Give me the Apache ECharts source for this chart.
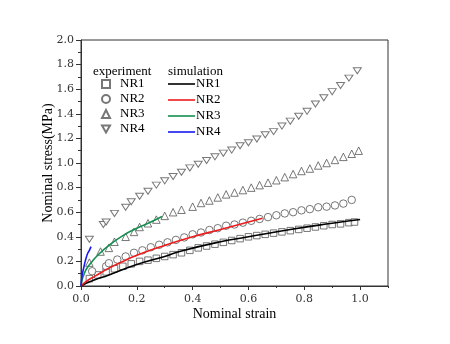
<!DOCTYPE html>
<html><head><meta charset="utf-8">
<script src="https://cdn.jsdelivr.net/npm/echarts@6/dist/echarts.min.js"></script>
<style>html,body{margin:0;padding:0;background:#fff}#c{width:450px;height:344px}</style>
</head><body><div id="c"></div>
<script>
// ---- data ----
const xTicks = [0, 0.2, 0.4, 0.6, 0.8, 1.0];
const yTicks = [0, 0.2, 0.4, 0.6, 0.8, 1.0, 1.2, 1.4, 1.6, 1.8, 2.0];
const names = ['NR1', 'NR2', 'NR3', 'NR4'];

const expNR1x = [0.03,0.06,0.09,0.12,0.15,0.18,0.21,0.24,0.27,0.30,0.33,0.36,0.39,0.42,0.45,0.48,0.51,0.54,0.57,0.60,0.63,0.66,0.69,0.72,0.75,0.78,0.81,0.84,0.87,0.90,0.93,0.96,0.98];
const expNR1y = [0.06,0.09,0.115,0.14,0.16,0.18,0.20,0.21,0.225,0.24,0.255,0.27,0.29,0.31,0.325,0.34,0.355,0.37,0.385,0.40,0.41,0.42,0.43,0.44,0.45,0.46,0.47,0.48,0.49,0.50,0.505,0.515,0.52];

const expNR2x = [0.04,0.09,0.10,0.13,0.16,0.19,0.22,0.25,0.28,0.31,0.34,0.37,0.40,0.43,0.46,0.49,0.52,0.55,0.58,0.61,0.64,0.67,0.70,0.73,0.76,0.79,0.82,0.85,0.88,0.91,0.94,0.97];
const expNR2y = [0.12,0.16,0.185,0.215,0.24,0.27,0.29,0.315,0.335,0.355,0.375,0.395,0.42,0.435,0.455,0.47,0.49,0.50,0.515,0.53,0.545,0.56,0.575,0.59,0.60,0.615,0.625,0.64,0.645,0.655,0.67,0.70];

const expNR3x = [0.03,0.07,0.10,0.12,0.16,0.19,0.21,0.24,0.27,0.30,0.33,0.36,0.40,0.43,0.46,0.49,0.52,0.55,0.58,0.61,0.64,0.67,0.70,0.73,0.76,0.79,0.82,0.85,0.88,0.91,0.94,0.97,0.995];
const expNR3y = [0.19,0.28,0.31,0.36,0.40,0.44,0.48,0.51,0.54,0.57,0.60,0.62,0.645,0.675,0.695,0.72,0.745,0.76,0.78,0.80,0.82,0.84,0.86,0.885,0.91,0.935,0.955,0.98,1.0,1.025,1.05,1.075,1.10];

const expNR4x = [0.03,0.08,0.09,0.12,0.16,0.18,0.21,0.24,0.27,0.30,0.33,0.36,0.39,0.42,0.45,0.48,0.51,0.54,0.57,0.60,0.63,0.66,0.69,0.72,0.75,0.78,0.81,0.84,0.87,0.90,0.93,0.96,0.99];
const expNR4y = [0.38,0.50,0.52,0.59,0.64,0.685,0.73,0.77,0.82,0.855,0.89,0.925,0.96,0.99,1.02,1.05,1.08,1.105,1.14,1.165,1.195,1.23,1.255,1.30,1.34,1.38,1.42,1.48,1.53,1.58,1.63,1.69,1.75];

const simNR1x = [0,0.02,0.05,0.1,0.2,0.3,0.36,0.5,0.6,0.75,0.9,1.0];
const simNR1y = [0,0.025,0.05,0.09,0.175,0.24,0.285,0.36,0.40,0.46,0.51,0.54];
const simNR2x = [0,0.02,0.05,0.1,0.15,0.2,0.3,0.4,0.5,0.6,0.65];
const simNR2y = [0,0.04,0.08,0.145,0.2,0.25,0.33,0.40,0.46,0.52,0.55];
const simNR3x = [0,0.005,0.01,0.02,0.04,0.06,0.1,0.15,0.2,0.25,0.29];
const simNR3y = [0,0.06,0.09,0.14,0.2,0.25,0.33,0.41,0.47,0.52,0.565];
const simNR4x = [0,0.003,0.006,0.01,0.015,0.02,0.025,0.03,0.036];
const simNR4y = [0,0.07,0.11,0.15,0.2,0.24,0.27,0.29,0.32];

// ---- build ----
const zip = (a, b) => a.map((v, i) => [v, b[i]]);
const expX = [expNR1x, expNR2x, expNR3x, expNR4x];
const expY = [expNR1y, expNR2y, expNR3y, expNR4y];
const simX = [simNR1x, simNR2x, simNR3x, simNR4x];
const simY = [simNR1y, simNR2y, simNR3y, simNR4y];
const symbols = ['rect', 'circle', 'triangle', 'path://M0,0 L10,0 L5,8.66 Z'];
const simColors = ['#000000', '#ee1c1c', '#138f4f', '#1a1aee'];
const serif = 'Liberation Serif';
const tickFont = 'DejaVu Serif';

const series = [];
names.forEach((n, i) => {
  series.push({
    name: 'exp ' + n, type: 'scatter', data: zip(expX[i], expY[i]),
    symbol: symbols[i], symbolSize: i === 0 ? 6.5 : (i === 3 ? [8, 7] : 7.5), symbolKeepAspect: true,
    itemStyle: { color: '#fff', borderColor: '#555', borderWidth: 1 },
    z: 2
  });
});
names.forEach((n, i) => {
  series.push({
    name: 'sim ' + n, type: 'line', data: zip(simX[i], simY[i]),
    smooth: true, symbol: 'none', showSymbol: false,
    lineStyle: { color: simColors[i], width: 1.6 },
    itemStyle: { color: simColors[i] },
    z: 3
  });
});

const chart = echarts.init(document.getElementById('c'), null, { renderer: 'canvas' });
chart.setOption({
  animation: false,
  backgroundColor: '#fff',
  grid: { left: 81, right: 62, top: 40, bottom: 58, show: true, borderColor: '#333', borderWidth: 1, backgroundColor: 'transparent' },
  xAxis: [{
    type: 'value', min: 0, max: 1.1, interval: 0.2,
    name: 'Nominal strain', nameLocation: 'middle', nameGap: 21, nameMoveOverlap: false,
    nameTextStyle: { fontFamily: serif, fontSize: 14, color: '#000', verticalAlign: 'top' },
    axisLine: { show: true, lineStyle: { color: '#333', width: 1 } },
    axisTick: { show: true, length: 4, lineStyle: { color: '#333' } },
    axisLabel: { fontFamily: tickFont, fontSize: 11, color: '#333', margin: 8, showMaxLabel: false,
      formatter: v => (xTicks.some(t => Math.abs(t - v) < 1e-6) ? v.toFixed(1) : '') },
    splitLine: { show: false }
  }, {
    type: 'value', min: 0, max: 1.1, interval: 0.1, position: 'bottom', gridIndex: 0,
    axisLine: { show: false }, axisLabel: { show: false }, splitLine: { show: false },
    axisTick: { show: true, length: 2, lineStyle: { color: '#333' } }
  }],
  yAxis: {
    type: 'value', min: 0, max: 2.0, interval: 0.2,
    name: 'Nominal stress(MPa)', nameLocation: 'middle', nameGap: 26, nameMoveOverlap: false,
    nameTextStyle: { fontFamily: serif, fontSize: 14, color: '#000' },
    axisLine: { show: true, lineStyle: { color: '#333', width: 1 } },
    axisTick: { show: true, length: 5, lineStyle: { color: '#333' } },
    minorTick: { show: true, splitNumber: 2, length: 3, lineStyle: { color: '#333' } },
    axisLabel: { fontFamily: tickFont, fontSize: 11, color: '#333', margin: 7,
      formatter: v => (yTicks.some(t => Math.abs(t - v) < 1e-6) ? v.toFixed(1) : '') },
    splitLine: { show: false }
  },
  legend: [{
    data: names.map((n, i) => ({ name: 'exp ' + n, icon: symbols[i] })), orient: 'vertical', left: 96, top: 72,
    itemWidth: 8, itemHeight: 8, itemGap: 1, selectedMode: false,
    formatter: n => n.slice(4),
    textStyle: { fontFamily: serif, fontSize: 13, color: '#000', lineHeight: 14, padding: [0, 0, 0, 5] }
  }, {
    data: names.map(n => ({ name: 'sim ' + n, icon: 'path://M0,0 L27,0 L27,1.6 L0,1.6 Z' })), orient: 'vertical', left: 163, top: 72,
    itemWidth: 27, itemHeight: 10, itemGap: 2, selectedMode: false,
    formatter: n => n.slice(4),
    textStyle: { fontFamily: serif, fontSize: 13, color: '#000', lineHeight: 14, padding: [0, 0, 0, -4] }
  }],
  graphic: [
    { type: 'text', left: 93, top: 65, style: { text: 'experiment', font: '13px "Liberation Serif"', fill: '#000' } },
    { type: 'text', left: 168, top: 65, style: { text: 'simulation', font: '13px "Liberation Serif"', fill: '#000' } }
  ],
  series: series
});
</script>
</body></html>
